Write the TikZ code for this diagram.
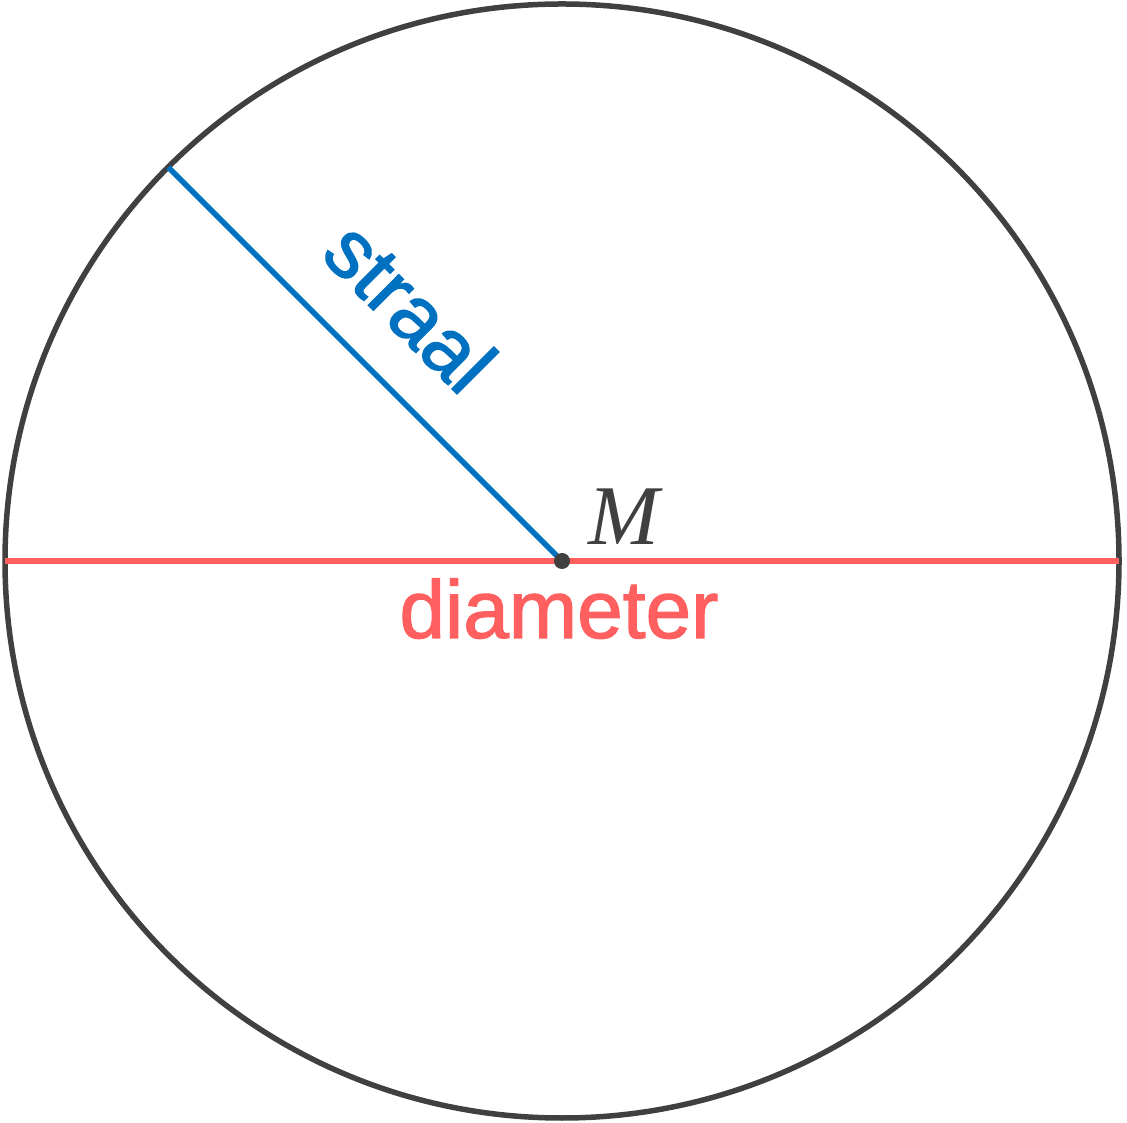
\documentclass[tikz,border=0pt]{standalone}
\usetikzlibrary{calc}
\usepackage{fontspec}
\setmainfont{Liberation Sans}
\newfontfamily\labfont[FakeBold=1.5]{Liberation Sans}
\newfontfamily\serifM{Liberation Serif}
\definecolor{cgray}{HTML}{404040}
\definecolor{cblue}{HTML}{0070C0}
\definecolor{cred}{HTML}{FF5F5F}
\begin{document}
\begin{tikzpicture}[x=1pt,y=1pt,
  circ/.style={draw=cgray,line width=5.5pt},
  diam/.style={draw=cred,line width=6pt},
  rad/.style={draw=cblue,line width=5.5pt},
  lbl/.style={inner sep=0pt,anchor=base}]
\useasboundingbox (0,0) rectangle (1127,1122);
\coordinate (M) at (562,561);
\coordinate (L) at (5,561);
\coordinate (R) at (1119,561);
\coordinate (P) at ($(M)+(135:557)$);
\draw[circ] (M) circle (557);
\draw[diam] (L) -- (R);
\draw[rad] (P) -- (M);
\fill[cgray] (M) circle (8);
\node[lbl,text=cred,font=\labfont\fontsize{82}{82}\selectfont] (dl) at (559,484) {diameter};
\node[lbl,text=cgray,font=\serifM\itshape\fontsize{85}{85}\selectfont] (ml) at (624,577) {M};
\node[lbl,text=cblue,rotate=-45,font=\labfont\fontsize{82}{82}\selectfont] (sl) at (390,795) {straal};
\end{tikzpicture}
\end{document}
